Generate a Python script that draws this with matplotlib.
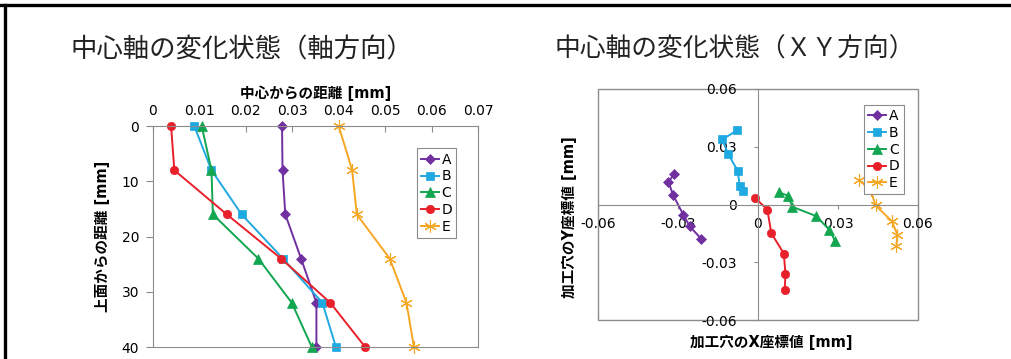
import numpy as np
import matplotlib
matplotlib.use("Agg")
import matplotlib.pyplot as plt
from matplotlib.patches import Rectangle
from matplotlib.lines import Line2D

plt.rcParams['font.family'] = ['DejaVu Sans', 'Noto Sans CJK JP']

# data
series = ["A", "B", "C", "D", "E"]
depth = [0, 8, 16, 24, 32, 40]

dist_A = [0.0278, 0.0279, 0.0285, 0.0319, 0.0352, 0.0352]
dist_B = [0.0089, 0.0126, 0.0191, 0.0280, 0.0365, 0.0394]
dist_C = [0.0105, 0.0126, 0.0129, 0.0227, 0.0299, 0.0342]
dist_D = [0.0039, 0.0046, 0.0159, 0.0276, 0.0382, 0.0457]
dist_E = [0.0400, 0.0429, 0.0439, 0.0510, 0.0546, 0.0562]

x_A = [-0.0315, -0.0336, -0.0318, -0.0280, -0.0256, -0.0212]
y_A = [0.0156, 0.0118, 0.0048, -0.0053, -0.0113, -0.0180]
x_B = [-0.0077, -0.0134, -0.0111, -0.0076, -0.0069, -0.0057]
y_B = [0.0386, 0.0338, 0.0260, 0.0175, 0.0098, 0.0069]
x_C = [0.0078, 0.0113, 0.0129, 0.0218, 0.0268, 0.0289]
y_C = [0.0063, 0.0046, -0.0012, -0.0060, -0.0132, -0.0189]
x_D = [-0.0010, 0.0035, 0.0050, 0.0097, 0.0103, 0.0100]
y_D = [0.0033, -0.0026, -0.0149, -0.0255, -0.0363, -0.0444]
x_E = [0.0379, 0.0422, 0.0441, 0.0502, 0.0523, 0.0519]
y_E = [0.0125, 0.0077, -0.0005, -0.0087, -0.0158, -0.0214]

x_ticks_left = [0, 0.01, 0.02, 0.03, 0.04, 0.05, 0.06, 0.07]
x_ticklabels_left = ["0", "0.01", "0.02", "0.03", "0.04", "0.05", "0.06", "0.07"]
y_ticks_left = [0, 10, 20, 30, 40]
xy_ticks = [-0.06, -0.03, 0, 0.03, 0.06]
xy_ticklabels = ["-0.06", "-0.03", "0", "0.03", "0.06"]

colors = ["#7030A0", "#1FA9E1", "#12A650", "#E8202A", "#F5A623"]
markers = ["D", "s", "^", "o", (6, 2, 0)]
msizes = [5, 6, 7, 6, 9]
medges = [0.5, 0.5, 0.5, 0.5, 0.8]
grey = "#8c8c8c"

fig = plt.figure(figsize=(10.11, 3.59), dpi=100)

# border lines (top and left)
fig.add_artist(Line2D([0, 1], [0.986, 0.986], color="black", lw=2.4, transform=fig.transFigure))
fig.add_artist(Line2D([0.005, 0.005], [0, 0.986], color="black", lw=2.4, transform=fig.transFigure))

fig.text(70 / 1011, 1 - 50 / 359, "中心軸の変化状態（軸方向）", fontsize=19,
         family=['Noto Sans CJK JP'], ha="left", va="center", color="#222222")
fig.text(555 / 1011, 1 - 50 / 359, "中心軸の変化状態（ＸＹ方向）", fontsize=18.5,
         family=['Noto Sans CJK JP'], ha="left", va="center", color="#222222")

# left chart
ax1 = fig.add_axes([0.1513, 0.0334, 0.3215, 0.6156])
dists = [dist_A, dist_B, dist_C, dist_D, dist_E]
for name, d, c, m, ms, me in zip(series, dists, colors, markers, msizes, medges):
    ax1.plot(d, depth, color=c, marker=m, markersize=ms, lw=1.4, label=name,
             markeredgewidth=me, clip_on=False)
ax1.set_xlim(0, 0.07)
ax1.set_ylim(40, 0)
ax1.xaxis.tick_top()
ax1.xaxis.set_label_position("top")
ax1.set_xticks(x_ticks_left)
ax1.set_xticklabels(x_ticklabels_left)
ax1.set_yticks(y_ticks_left)
ax1.tick_params(axis="x", direction="in", length=4, color=grey, labelsize=10, pad=6)
ax1.tick_params(axis="y", direction="out", length=5, color=grey, labelsize=10, pad=5)
for s in ax1.spines.values():
    s.set_color(grey)
ax1.set_xlabel("中心からの距離 [mm]", fontsize=10.5, fontweight="bold", labelpad=4)
ax1.set_ylabel("上面からの距離 [mm]", fontsize=10.5, fontweight="bold", labelpad=8)
leg1 = ax1.legend(loc="upper right", bbox_to_anchor=(0.955, 0.93), fontsize=10,
                  handlelength=1.3, handletextpad=0.2, labelspacing=0.2,
                  borderpad=0.3, fancybox=False, edgecolor=grey, framealpha=1)
leg1.get_frame().set_linewidth(0.8)

# right chart
ax2 = fig.add_axes([0.5915, 0.1086, 0.3165, 0.6435])
xs = [x_A, x_B, x_C, x_D, x_E]
ys = [y_A, y_B, y_C, y_D, y_E]
for name, xv, yv, c, m, ms, me in zip(series, xs, ys, colors, markers, msizes, medges):
    ax2.plot(xv, yv, color=c, marker=m, markersize=ms, lw=1.4, label=name,
             markeredgewidth=me)
ax2.set_xlim(-0.06, 0.06)
ax2.set_ylim(-0.06, 0.06)
ax2.spines["left"].set_position(("data", 0))
ax2.spines["bottom"].set_position(("data", 0))
ax2.spines["top"].set_visible(False)
ax2.spines["right"].set_visible(False)
for s in ax2.spines.values():
    s.set_color(grey)
ax2.add_patch(Rectangle((0, 0), 1, 1, transform=ax2.transAxes, fill=False,
                        ec=grey, lw=1, clip_on=False))
ax2.set_xticks(xy_ticks)
ax2.set_xticklabels(xy_ticklabels)
ax2.set_yticks(xy_ticks)
ax2.set_yticklabels(xy_ticklabels)
ax2.tick_params(axis="both", direction="out", length=3, color=grey, labelsize=10)
ax2.tick_params(axis="x", pad=6)
ax2.tick_params(axis="y", pad=12)
ax2.set_xlabel("加工穴のX座標値 [mm]", fontsize=10.5, fontweight="bold")
ax2.set_ylabel("加工穴のY座標値 [mm]", fontsize=10.5, fontweight="bold")
ax2.xaxis.set_label_coords(0.54, -0.065)
ax2.yaxis.set_label_coords(-0.065, 0.446)
leg2 = ax2.legend(loc="upper right", bbox_to_anchor=(0.978, 0.961), fontsize=10,
                  handlelength=1.3, handletextpad=0.2, labelspacing=0.2,
                  borderpad=0.3, fancybox=False, edgecolor=grey, framealpha=1)
leg2.get_frame().set_linewidth(0.8)

fig.savefig("out.png", dpi=100)
